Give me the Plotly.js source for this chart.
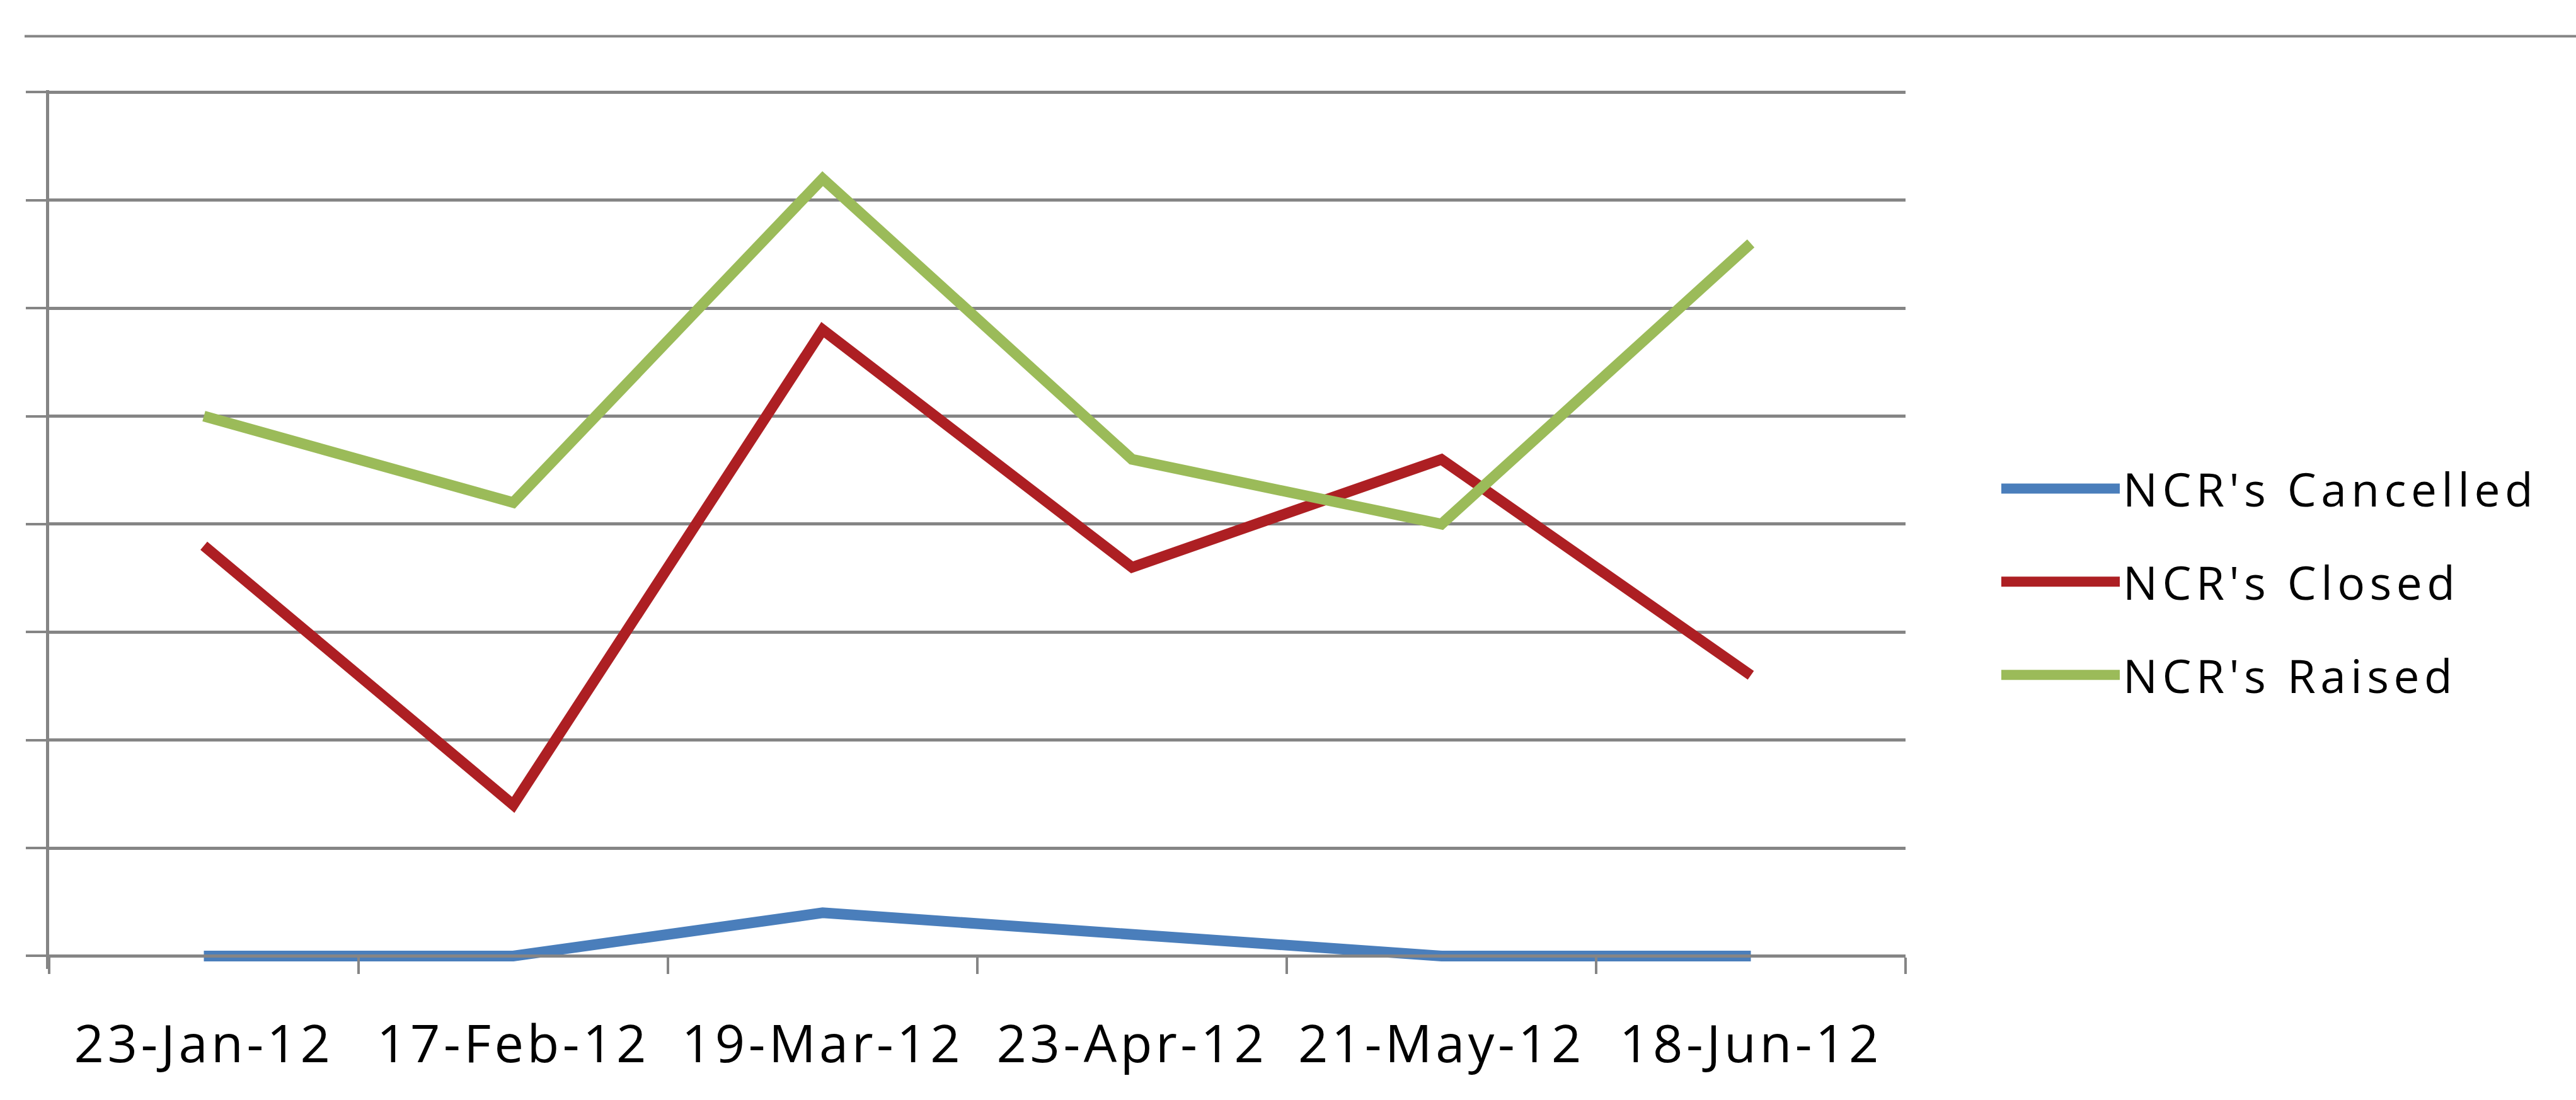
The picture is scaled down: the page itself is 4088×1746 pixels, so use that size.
<!DOCTYPE html>
<html><head><meta charset="utf-8">
<script src="https://cdn.plot.ly/plotly-3.0.1.min.js"></script>
<style>
html,body{margin:0;padding:0;background:#fff;}
#chart{width:4088px;height:1746px;}
.xtick text{letter-spacing:5.5px;}
.legendtext{letter-spacing:7.5px;}
.legendlines path{stroke-width:16px !important;}
</style></head><body><div id="chart"></div>
<script>
const categories = ['23-Jan-12','17-Feb-12','19-Mar-12','23-Apr-12','21-May-12','18-Jun-12'];
const cancelled = [0, 0, 2, 1, 0, 0];
const closed = [19, 7, 29, 18, 23, 13];
const raised = [25, 21, 36, 23, 20, 33];
const seriesNames = ["NCR's Cancelled", "NCR's Closed", "NCR's Raised"];

const colors = ['#4A7EBB', '#AD1F23', '#9BBB59'];
const seriesValues = [cancelled, closed, raised];

const traces = seriesValues.map((vals, i) => ({
  type: 'scatter', mode: 'lines',
  x: categories, y: vals, name: seriesNames[i],
  legendgroup: 'g' + i,
  line: {color: colors[i], width: 17},
  hoverinfo: 'skip'
}));

const W = 4088, H = 1746;
const plotL = 78, plotR = 3024, zeroY = 1517, topGridY = 146;
const pad = 0.6;   // value units below zero so the zero line is not clipped
const padTop = 0.1; // so the top gridline is drawn
const ymax = 40;
const pxPerUnit = (zeroY - topGridY) / ymax;
const plotB = zeroY + pad * pxPerUnit;
const plotT = topGridY - padTop * pxPerUnit;
const plotH = plotB - plotT;

const gray = '#858585';
const layout = {
  width: W, height: H,
  margin: {l: plotL, r: W - plotR, t: plotT, b: H - plotB, pad: 0},
  paper_bgcolor: '#ffffff', plot_bgcolor: '#ffffff',
  font: {family: '"Open Sans", "Liberation Sans", sans-serif', color: '#000000'},
  showlegend: true,
  legend: {
    x: (3171 - plotL) / (plotR - plotL), xanchor: 'left',
    y: (plotB - 923) / plotH, yanchor: 'middle',
    font: {size: 73, color: '#000000'},
    traceorder: 'grouped', tracegroupgap: 50,
    itemwidth: 188, bgcolor: 'rgba(0,0,0,0)', borderwidth: 0
  },
  xaxis: {
    type: 'category', anchor: 'free', position: pad / (ymax + pad + padTop),
    range: [-0.5, categories.length - 0.5],
    showline: true, linecolor: gray, linewidth: 5,
    ticks: 'outside', tickson: 'boundaries', ticklen: 26, tickwidth: 4, tickcolor: gray,
    showgrid: false, zeroline: false,
    tickfont: {size: 83, color: '#000000'},
    ticklabelstandoff: 66,
    fixedrange: true
  },
  yaxis: {
    range: [-pad, ymax + padTop], dtick: 5, tick0: 0,
    showline: true, linecolor: gray, linewidth: 5,
    ticks: 'outside', ticklen: 32, tickwidth: 4, tickcolor: gray,
    showgrid: true, gridcolor: gray, gridwidth: 5,
    zeroline: false, showticklabels: false,
    fixedrange: true
  },
  shapes: [{
    type: 'line', xref: 'paper', yref: 'paper',
    x0: (39 - plotL) / (plotR - plotL), x1: (W - plotL) / (plotR - plotL),
    y0: (plotB - 57) / plotH, y1: (plotB - 57) / plotH,
    line: {color: gray, width: 4}
  }]
};

Plotly.newPlot('chart', traces, layout, {displayModeBar: false, staticPlot: true});
</script></body></html>
